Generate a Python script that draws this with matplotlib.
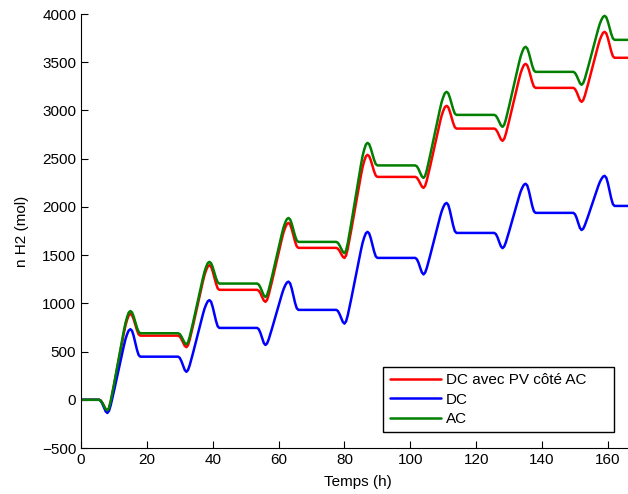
import matplotlib
matplotlib.use("Agg")
import matplotlib.pyplot as plt

# time in hours (samples; plateaus are flat between listed points)
hours = [
    0,
    5.5, 6, 6.5, 7, 7.5, 8, 8.5, 9, 10, 11, 12, 13, 13.5, 14, 14.5, 15, 15.5, 16, 16.5, 17, 17.5, 18,
    29.5, 30, 30.5, 31, 31.5, 32, 32.5, 33, 34, 35, 36, 37, 37.5, 38, 38.5, 39, 39.5, 40, 40.5, 41, 41.5, 42,
    53.5, 54, 54.5, 55, 55.5, 56, 56.5, 57, 58, 59, 60, 61, 61.5, 62, 62.5, 63, 63.5, 64, 64.5, 65, 65.5, 66,
    77.5, 78, 78.5, 79, 79.5, 80, 80.5, 81, 82, 83, 84, 85, 85.5, 86, 86.5, 87, 87.5, 88, 88.5, 89, 89.5, 90,
    101.5, 102, 102.5, 103, 103.5, 104, 104.5, 105, 106, 107, 108, 109, 109.5, 110, 110.5, 111, 111.5, 112, 112.5, 113, 113.5, 114,
    125.5, 126, 126.5, 127, 127.5, 128, 128.5, 129, 130, 131, 132, 133, 133.5, 134, 134.5, 135, 135.5, 136, 136.5, 137, 137.5, 138,
    149.5, 150, 150.5, 151, 151.5, 152, 152.5, 153, 154, 155, 156, 157, 157.5, 158, 158.5, 159, 159.5, 160, 160.5, 161, 161.5, 162,
    168,
]

# AC (green)
n_ac = [
    0,
    0, -9, -33, -66, -97, -110, -84, -17, 158, 343, 529, 714, 796, 858, 905, 920, 906, 862, 805, 747, 704, 690,
    690, 681, 656, 621, 589, 575, 596, 652, 797, 951, 1105, 1259, 1327, 1379, 1417, 1430, 1416, 1374, 1317, 1261, 1218, 1205,
    1205, 1194, 1163, 1121, 1082, 1065, 1086, 1139, 1278, 1426, 1573, 1721, 1787, 1836, 1873, 1885, 1870, 1823, 1761, 1699, 1652, 1637,
    1637, 1628, 1602, 1567, 1534, 1520, 1549, 1623, 1817, 2023, 2229, 2435, 2527, 2595, 2647, 2664, 2650, 2605, 2547, 2488, 2444, 2430,
    2430, 2420, 2391, 2352, 2316, 2300, 2322, 2380, 2532, 2693, 2854, 3014, 3086, 3139, 3180, 3193, 3179, 3133, 3073, 3014, 2968, 2954,
    2954, 2944, 2917, 2880, 2845, 2830, 2851, 2905, 3046, 3195, 3345, 3494, 3560, 3610, 3648, 3660, 3644, 3595, 3530, 3465, 3416, 3400,
    3400, 3389, 3360, 3320, 3282, 3266, 3284, 3330, 3452, 3581, 3709, 3838, 3895, 3938, 3970, 3981, 3966, 3919, 3856, 3794, 3747, 3732,
    3732,
]

# DC avec PV cote AC (red)
n_dc_pv_ac = [
    0,
    0, -9, -35, -69, -101, -115, -90, -25, 146, 327, 508, 689, 769, 830, 875, 890, 876, 834, 777, 721, 678, 665,
    665, 655, 629, 593, 559, 545, 566, 622, 766, 919, 1072, 1225, 1293, 1344, 1382, 1395, 1380, 1331, 1267, 1204, 1155, 1140,
    1140, 1130, 1103, 1065, 1030, 1015, 1035, 1089, 1228, 1375, 1523, 1670, 1736, 1785, 1822, 1834, 1818, 1769, 1704, 1640, 1591, 1575,
    1575, 1567, 1544, 1512, 1483, 1470, 1497, 1566, 1748, 1941, 2133, 2326, 2412, 2476, 2524, 2540, 2526, 2483, 2425, 2368, 2325, 2311,
    2311, 2302, 2277, 2243, 2211, 2197, 2218, 2274, 2418, 2571, 2725, 2878, 2946, 2997, 3035, 3048, 3034, 2989, 2930, 2871, 2826, 2812,
    2812, 2802, 2774, 2736, 2700, 2685, 2705, 2757, 2892, 3036, 3180, 3323, 3387, 3435, 3471, 3483, 3468, 3421, 3358, 3296, 3249, 3234,
    3234, 3222, 3191, 3147, 3106, 3089, 3107, 3154, 3278, 3408, 3539, 3670, 3728, 3771, 3804, 3815, 3799, 3748, 3680, 3613, 3562, 3546,
    3546,
]

# DC (blue)
n_dc = [
    0,
    0, -11, -41, -82, -121, -137, -115, -59, 89, 245, 402, 558, 628, 680, 719, 732, 715, 661, 589, 518, 464, 447,
    447, 434, 400, 353, 309, 290, 309, 357, 483, 617, 751, 884, 944, 988, 1022, 1033, 1016, 961, 889, 817, 762, 745,
    745, 731, 692, 639, 589, 568, 584, 627, 739, 857, 975, 1094, 1146, 1186, 1215, 1225, 1207, 1152, 1078, 1005, 950, 932,
    932, 921, 889, 847, 807, 790, 814, 876, 1037, 1208, 1380, 1551, 1627, 1684, 1727, 1741, 1725, 1673, 1606, 1538, 1487, 1471,
    1471, 1457, 1420, 1368, 1321, 1300, 1319, 1367, 1493, 1626, 1759, 1893, 1952, 1997, 2030, 2041, 2022, 1963, 1885, 1808, 1749, 1730,
    1730, 1717, 1683, 1635, 1591, 1572, 1589, 1632, 1746, 1866, 1986, 2106, 2160, 2200, 2230, 2240, 2222, 2164, 2089, 2013, 1956, 1938,
    1938, 1924, 1885, 1831, 1781, 1760, 1774, 1811, 1906, 2007, 2108, 2210, 2255, 2288, 2314, 2322, 2303, 2244, 2166, 2088, 2029, 2010,
    2010,
]

labels = ["DC avec PV côté AC", "DC", "AC"]
xticks = [0, 20, 40, 60, 80, 100, 120, 140, 160]
yticks = [-500, 0, 500, 1000, 1500, 2000, 2500, 3000, 3500, 4000]

plt.rcParams['font.family'] = ['Liberation Sans', 'DejaVu Sans']

fig = plt.figure(figsize=(6.28, 4.94), dpi=100)
ax = fig.add_axes([81/628, 1 - 448/494, 1 - 81/628 + 0.01, (448 - 14)/494])

kw = dict(lw=1.8, solid_joinstyle='round', solid_capstyle='round')
ax.plot(hours, n_dc_pv_ac, color='#ff0000', label=labels[0], **kw)
ax.plot(hours, n_dc, color='#0000ff', label=labels[1], **kw)
ax.plot(hours, n_ac, color='#007f00', label=labels[2], **kw)

ax.set_xlim(0, 168)
ax.set_ylim(-500, 4000)
ax.set_xticks(xticks)
ax.set_yticks(yticks)
ax.tick_params(direction='in', length=5, labelsize=11, width=0.8)
ax.spines['top'].set_visible(False)
ax.spines['right'].set_visible(False)
ax.set_xlabel("Temps (h)", fontsize=11, labelpad=6)
ax.set_ylabel("n H2 (mol)", fontsize=11, labelpad=9)

leg = ax.legend(loc='lower left', bbox_to_anchor=((380 - 81)/547, (448 - 432)/434, (608 - 380)/547, (432 - 355)/434),
                mode='expand', borderaxespad=0, fontsize=11, fancybox=False, edgecolor='black',
                handlelength=3.4, handletextpad=0.3, labelspacing=0.35, borderpad=0.4, framealpha=1)
leg.get_frame().set_linewidth(1.0)

fig.savefig("out.png", dpi=100)
